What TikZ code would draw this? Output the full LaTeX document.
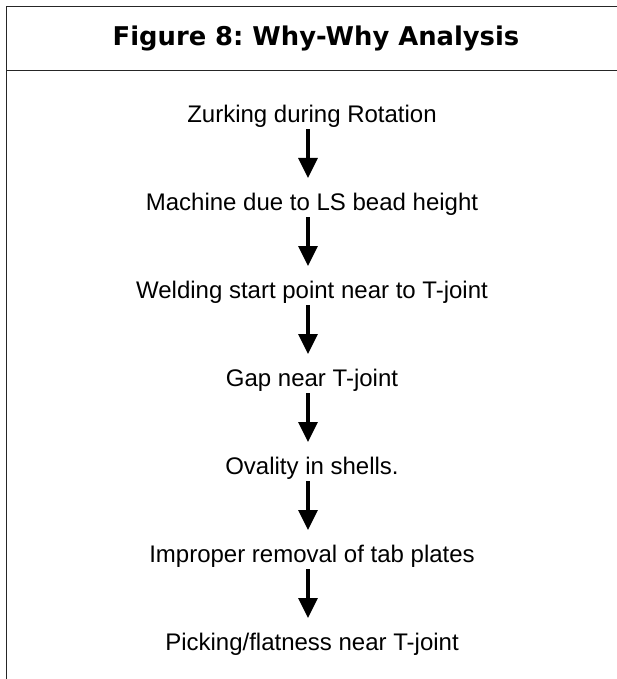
\documentclass[tikz,border=0pt]{standalone}
\usepackage{fontspec}
\setmainfont{Liberation Sans}
\newfontfamily\headfont{DejaVu Sans}
\usetikzlibrary{arrows.meta}
\frenchspacing
\begin{document}
\begin{tikzpicture}[x=1pt,y=-1pt,
  frame/.style={line width=1.5pt,draw=black!85},
  why/.style={inner sep=0pt,font=\fontsize{24}{24}\selectfont,text height=17.2pt,text depth=0pt},
  headtext/.style={inner sep=0pt,font=\headfont\bfseries\fontsize{25.8}{25.8}\selectfont,text height=18.8pt,text depth=0pt},
  because/.style={line width=3.3pt,-{Triangle[width=19pt,length=20pt]}}]
\useasboundingbox (0,0) rectangle (616,679);
% open frame with title band
\draw[frame] (6.5,679) -- (6.5,6.5) -- (620,6.5);
\draw[frame] (6.5,70.5) -- (620,70.5);
\node[headtext,anchor=north] (title) at (316,26.6) {Figure 8: Why-Why Analysis};
% chain of causes
\node[why,anchor=north] (w1) at (312,105) {Zurking during Rotation};
\node[why,anchor=north] (w2) at (312,193) {Machine due to LS bead height};
\node[why,anchor=north] (w3) at (312,281) {Welding start point near to T-joint};
\node[why,anchor=north] (w4) at (312,369) {Gap near T-joint};
\node[why,anchor=north] (w5) at (312,457) {Ovality in shells.};
\node[why,anchor=north] (w6) at (312,545) {Improper removal of tab plates};
\node[why,anchor=north] (w7) at (312,633) {Picking/flatness near T-joint};
\foreach \a/\b in {w1/w2,w2/w3,w3/w4,w4/w5,w5/w6,w6/w7}
  \draw[because] ([xshift=-4pt,yshift=-6.5pt]\a.south) -- ([xshift=-4pt,yshift=15pt]\b.north);
\end{tikzpicture}
\end{document}
